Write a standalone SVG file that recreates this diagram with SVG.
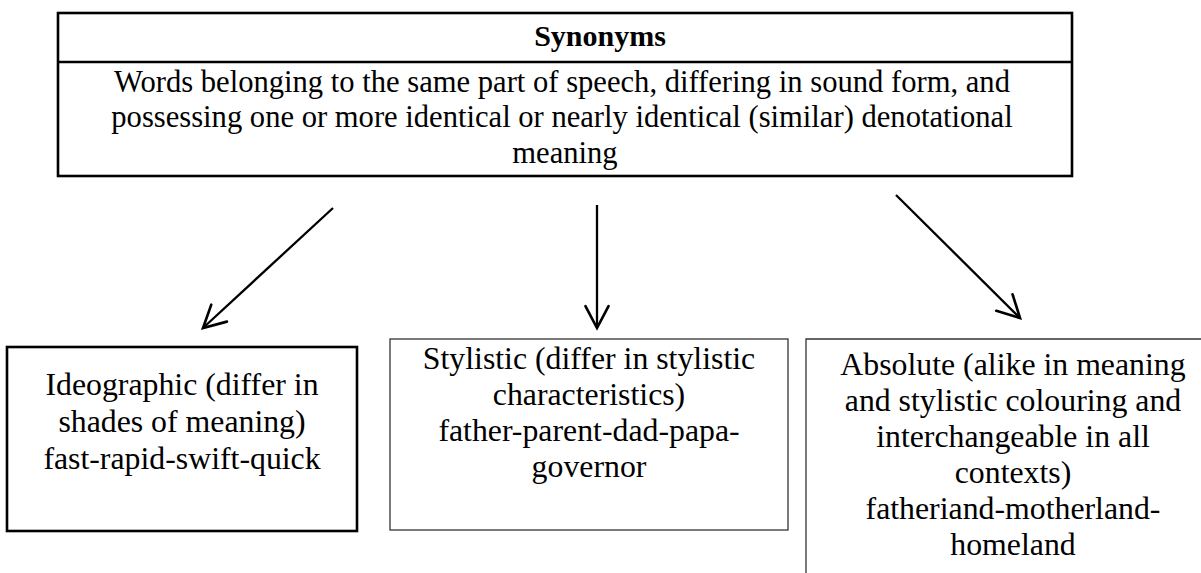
<svg xmlns="http://www.w3.org/2000/svg" width="1201" height="573" viewBox="0 0 1201 573">
  <style>
    .bg { fill: #ffffff; }
    .thick { fill: none; stroke: #000000; stroke-width: 2.6; }
    .thin { fill: none; stroke: #333333; stroke-width: 1.3; }
    text { font-family: "Liberation Serif", "Times New Roman", serif; fill: #000000; text-anchor: middle; }
    .title { font-size: 30px; font-weight: bold; }
    .head { font-size: 30.6px; }
    .body { font-size: 31.8px; }
    .conn { fill: none; stroke: #000000; stroke-width: 2.3; }
  </style>
  <defs>
    <marker id="arrow" markerUnits="userSpaceOnUse" markerWidth="30" markerHeight="30" viewBox="-22 -12 26 24" refX="0" refY="0" orient="auto">
      <path d="M-19,-10 L0,0 L-19,10" fill="none" stroke="#000000" stroke-width="2.3" stroke-linecap="round" stroke-linejoin="miter"/>
    </marker>
  </defs>

  <rect class="bg" x="0" y="0" width="1201" height="573"/>

  <!-- definition box -->
  <g id="synonyms">
    <rect class="thick" x="58" y="13" width="1014" height="163"/>
    <line class="thick" x1="58" y1="62" x2="1072" y2="62"/>
    <text class="title" x="600" y="46">Synonyms</text>
    <text class="head" x="562" y="92">Words belonging to the same part of speech, differing in sound form, and</text>
    <text class="head" x="562" y="127">possessing one or more identical or nearly identical (similar) denotational</text>
    <text class="head" x="565" y="163">meaning</text>
  </g>

  <!-- connectors -->
  <g id="connectors">
    <line class="conn" x1="333" y1="208" x2="203" y2="328" marker-end="url(#arrow)"/>
    <line class="conn" x1="597" y1="205" x2="597" y2="328" marker-end="url(#arrow)"/>
    <line class="conn" x1="896" y1="195" x2="1020" y2="318" marker-end="url(#arrow)"/>
  </g>

  <g id="ideographic">
    <rect class="thick" x="7" y="347" width="350" height="184"/>
    <text class="body" x="182" y="395">Ideographic (differ in</text>
    <text class="body" x="182" y="432">shades of meaning)</text>
    <text class="body" x="182" y="469">fast-rapid-swift-quick</text>
  </g>

  <g id="stylistic">
    <rect class="thin" x="390" y="339" width="398" height="191"/>
    <text class="body" x="589" y="369">Stylistic (differ in stylistic</text>
    <text class="body" x="589" y="405">characteristics)</text>
    <text class="body" x="589" y="441">father-parent-dad-papa-</text>
    <text class="body" x="589" y="477">governor</text>
  </g>

  <g id="absolute">
    <path class="thin" d="M1210,339 H806 V580"/>
    <text class="body" x="1013" y="375">Absolute (alike in meaning</text>
    <text class="body" x="1013" y="411">and stylistic colouring and</text>
    <text class="body" x="1013" y="447">interchangeable in all</text>
    <text class="body" x="1013" y="483">contexts)</text>
    <text class="body" x="1013" y="519">fatheriand-motherland-</text>
    <text class="body" x="1013" y="555">homeland</text>
  </g>
</svg>
